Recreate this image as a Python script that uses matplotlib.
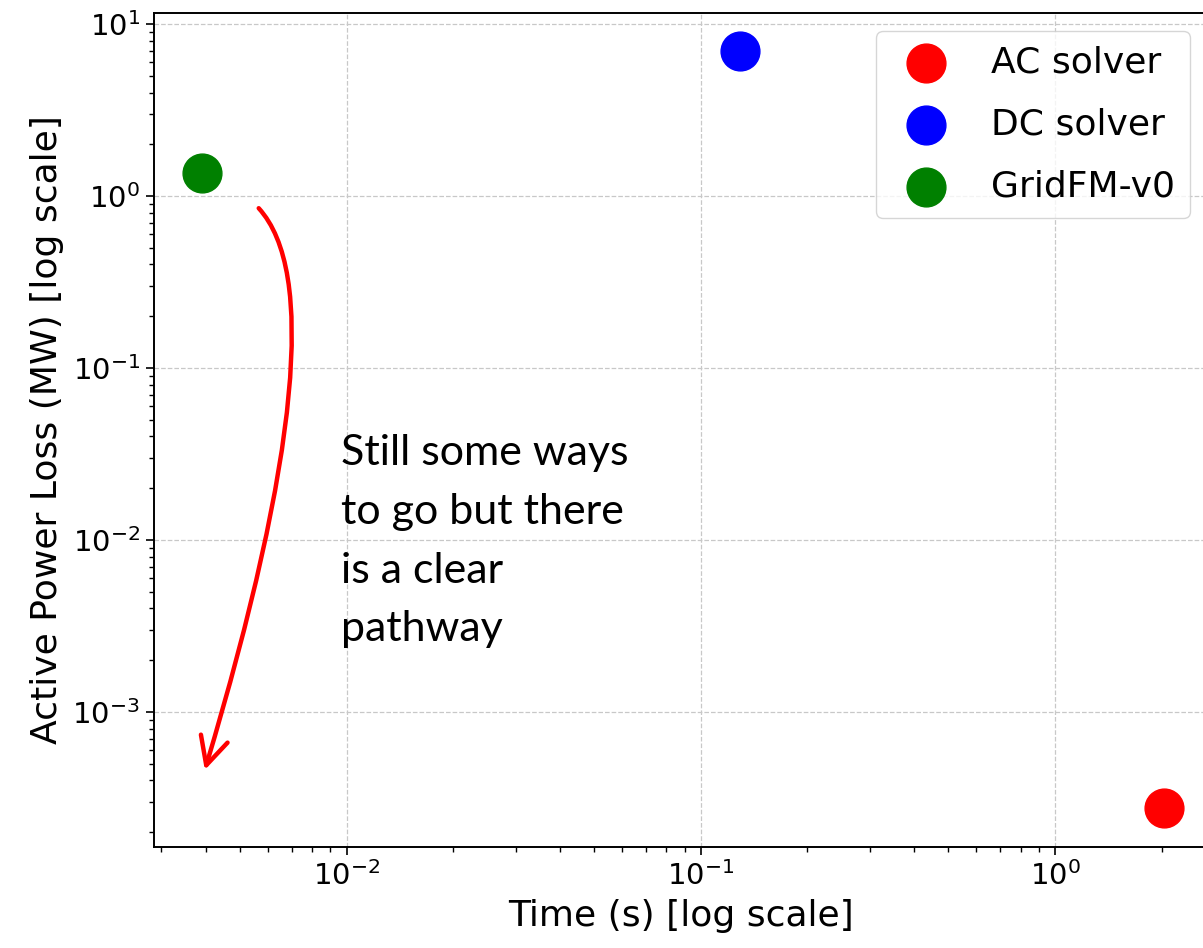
import numpy as np
from matplotlib import pyplot as plt
from matplotlib.path import Path
from matplotlib.patches import FancyArrowPatch

# values
methods = ['AC solver', 'DC solver', 'GridFM-v0']
colors = ['red', 'blue', 'green']
times = [2.03, 0.129, 0.0039]          # seconds
losses = [2.75e-4, 7.0, 1.36]          # MW

note = "Still some ways\nto go but there\nis a clear\npathway"

fig = plt.figure(figsize=(12.03, 9.48), dpi=100)
# axes runs a bit past the right edge, as in the (cropped) reference
ax = fig.add_axes([0.128, 0.1065, 0.876, 0.8798])

for m, c, t, l in zip(methods, colors, times, losses):
    ax.scatter(t, l, s=780, color=c, label=m, zorder=3)

ax.set_xscale('log')
ax.set_yscale('log')
ax.set_xlim(0.00286, 2.7)
ax.set_ylim(1.64e-4, 11.6)

ax.grid(True, which='major', linestyle='--', color='#c8c8c8', linewidth=0.9)
ax.tick_params(which='major', labelsize=21, length=6, width=1.2, pad=4)
ax.tick_params(which='minor', length=3.5, width=1.0)
for sp in ax.spines.values():
    sp.set_linewidth(1.4)

ax.set_xlabel('Time (s) [log scale]', fontsize=26, labelpad=6)
ax.set_ylabel('Active Power Loss (MW) [log scale]', fontsize=26, labelpad=6)

ax.legend(loc='upper right', fontsize=26, scatterpoints=1, labelspacing=0.78)

# curved red arrow pointing down (quadratic bezier in data coords)
path = Path([(0.00565, 0.85), (0.0099, 0.24), (0.00398, 4.6e-4)],
            [Path.MOVETO, Path.CURVE3, Path.CURVE3])
arrow = FancyArrowPatch(path=path, arrowstyle='->,head_length=1.0,head_width=0.5',
                        mutation_scale=20, color='red', lw=3.2,
                        transform=ax.transData, zorder=4)
ax.add_patch(arrow)

fig.text(0.2835, 0.542, note, fontsize=31, family='Lato', va='top', ha='left',
         linespacing=1.67)

plt.savefig('out.png', dpi=100)
